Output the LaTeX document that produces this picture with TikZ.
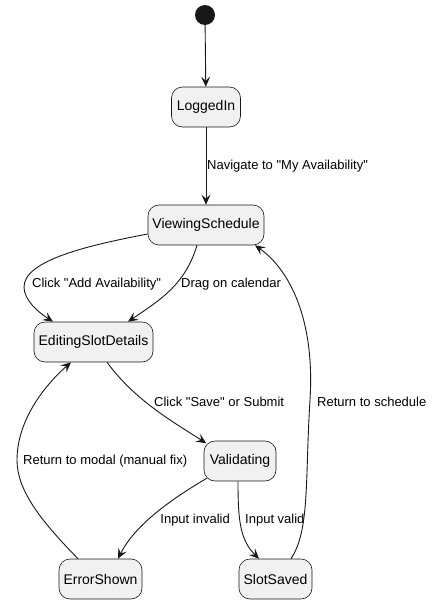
\documentclass[tikz,border=0pt]{standalone}
\usepackage{fontspec}
\setmainfont{Liberation Sans}[Ligatures=TeXOff]
\usetikzlibrary{arrows.meta}
\definecolor{statefill}{HTML}{F1F1F1}
\definecolor{stateline}{HTML}{181818}
\definecolor{edgecol}{HTML}{181818}
\begin{document}
\begin{tikzpicture}[x=1pt,y=-1pt,
  state/.style={draw=stateline, line width=0.6pt, fill=statefill, rounded corners=11pt,
    minimum height=40pt, inner sep=0pt, font=\fontsize{14}{16}\selectfont},
  startdot/.style={circle, fill=stateline, draw=none, minimum size=20pt, inner sep=0pt},
  edge/.style={draw=edgecol, line width=0.9pt, -{Stealth[length=10pt,width=9pt,inset=4pt]}},
  lbl/.style={font=\fontsize{13}{15}\selectfont, inner sep=0pt, text=black}
]
\useasboundingbox (0,0) rectangle (433,605);

\node[startdot] (start) at (205,15) {};
\node[state, minimum width=69pt] (li) at (206,107) {LoggedIn};
\node[state, minimum width=116pt] (vs) at (206,225) {ViewingSchedule};
\node[state, minimum width=119pt] (esd) at (93.5,342) {EditingSlotDetails};
\node[state, minimum width=72pt] (val) at (240,461) {Validating};
\node[state, minimum width=83pt] (err) at (100.5,579) {ErrorShown};
\node[state, minimum width=73pt] (saved) at (275.5,579) {SlotSaved};

% start -> LoggedIn
\draw[edge] (start) -- (li);
% LoggedIn -> ViewingSchedule
\draw[edge] (li) -- (vs);
\node[lbl, anchor=west] (l1) at (207,166) {Navigate to "My Availability"};

% ViewingSchedule -> EditingSlotDetails (left)
\draw[edge] ([yshift=-9pt]vs.west) .. controls (90,245) and (24,260) .. (24,287)
  .. controls (24,300) and (38,312) .. ([xshift=-40.5pt]esd.north);
\node[lbl, anchor=west] (l2) at (32,284) {Click "Add Availability"};

% ViewingSchedule -> EditingSlotDetails (right)
\draw[edge] ([xshift=-9pt]vs.south) .. controls (185,285) and (160,300) .. ([xshift=34.5pt]esd.north);
\node[lbl, anchor=west] (l3) at (181,284) {Drag on calendar};

% EditingSlotDetails -> Validating
\draw[edge] ([xshift=13.5pt]esd.south) .. controls (135,400) and (170,420) .. ([xshift=2.5pt,yshift=-2.5pt]val.north west);
\node[lbl, anchor=west] (l4) at (154,402) {Click "Save" or Submit};

% Validating -> ErrorShown
\draw[edge] ([xshift=3pt,yshift=3pt]val.south west) .. controls (170,500) and (135,525) .. ([xshift=17.5pt]err.north);
\node[lbl, anchor=east] (l5) at (230,520) {Input invalid};

% Validating -> SlotSaved
\draw[edge] ([xshift=-2pt]val.south) .. controls (238,520) and (240,540) .. ([xshift=-16.5pt]saved.north);
\node[lbl, anchor=west] (l6) at (245,520) {Input valid};

% SlotSaved -> ViewingSchedule
\draw[edge] ([xshift=15.5pt]saved.north) .. controls (310,530) and (305,480) .. (310,400)
  .. controls (315,320) and (290,270) .. ([xshift=49pt]vs.south);
\node[lbl, anchor=west] (l7) at (317,402) {Return to schedule};

% ErrorShown -> EditingSlotDetails
\draw[edge] ([xshift=-22.5pt]err.north) .. controls (40,520) and (17,490) .. (17,460)
  .. controls (17,420) and (45,385) .. ([xshift=-22.5pt]esd.south);
\node[lbl, anchor=west] (l8) at (23,461) {Return to modal (manual fix)};
\end{tikzpicture}
\end{document}
